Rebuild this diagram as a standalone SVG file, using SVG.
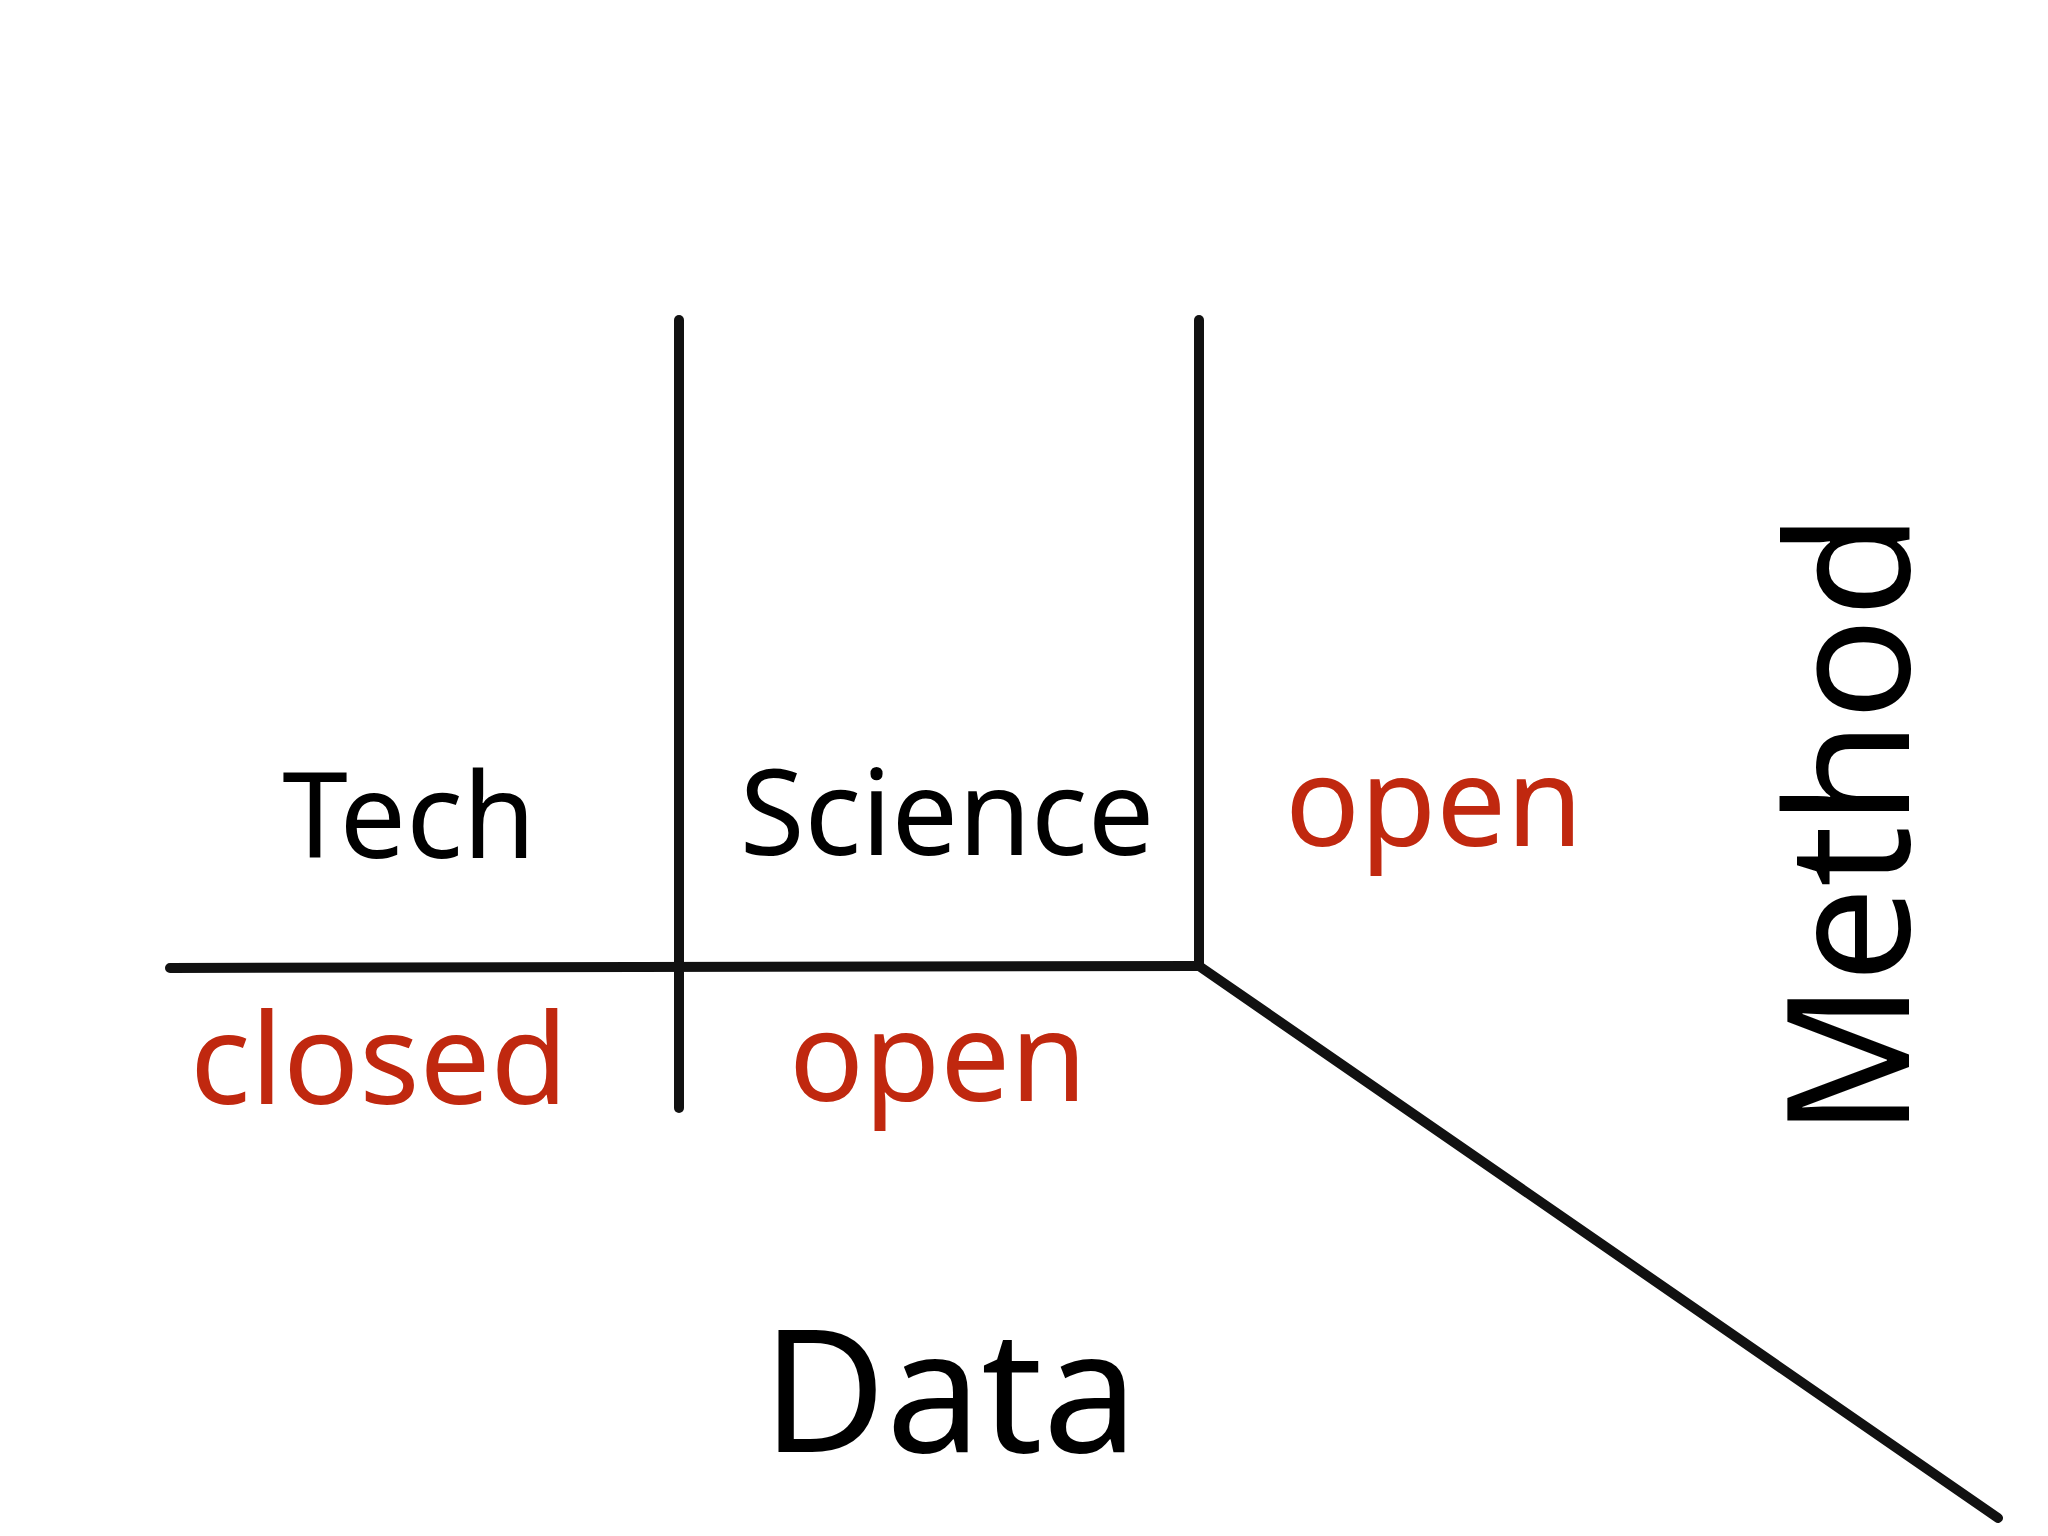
<svg xmlns="http://www.w3.org/2000/svg" width="2048" height="1536" viewBox="0 0 2048 1536">
<style>
.ln{stroke:#111;stroke-width:10;fill:none;stroke-linecap:round}
.t{font-family:"Noto Sans","Liberation Sans",sans-serif;text-anchor:middle}
.k{fill:#000}
.r{fill:#c0280f}
</style>
<rect width="2048" height="1536" fill="#fff"/>
<g id="connectors">
<line class="ln" x1="679" y1="320" x2="679" y2="1108"/>
<line class="ln" x1="1199" y1="320" x2="1199" y2="966"/>
<line class="ln" x1="170" y1="968" x2="1199" y2="966"/>
<line class="ln" x1="1199" y1="966" x2="1998" y2="1518"/>
</g>
<g id="tech"><text class="t k" x="409" y="858" font-size="118">Tech</text></g>
<g id="science"><text class="t k" x="947" y="855" font-size="118">Science</text></g>
<g id="open-method"><text class="t r" x="1434" y="846" font-size="124">open</text></g>
<g id="closed"><text class="t r" x="379" y="1104" font-size="126">closed</text></g>
<g id="open-data"><text class="t r" x="938" y="1101" font-size="124">open</text></g>
<g id="data"><text class="t k" x="950" y="1452" font-size="170">Data</text></g>
<g id="method"><text class="t k" x="0" y="0" font-size="170" transform="translate(1909,825) rotate(-90)">Method</text></g>
</svg>
